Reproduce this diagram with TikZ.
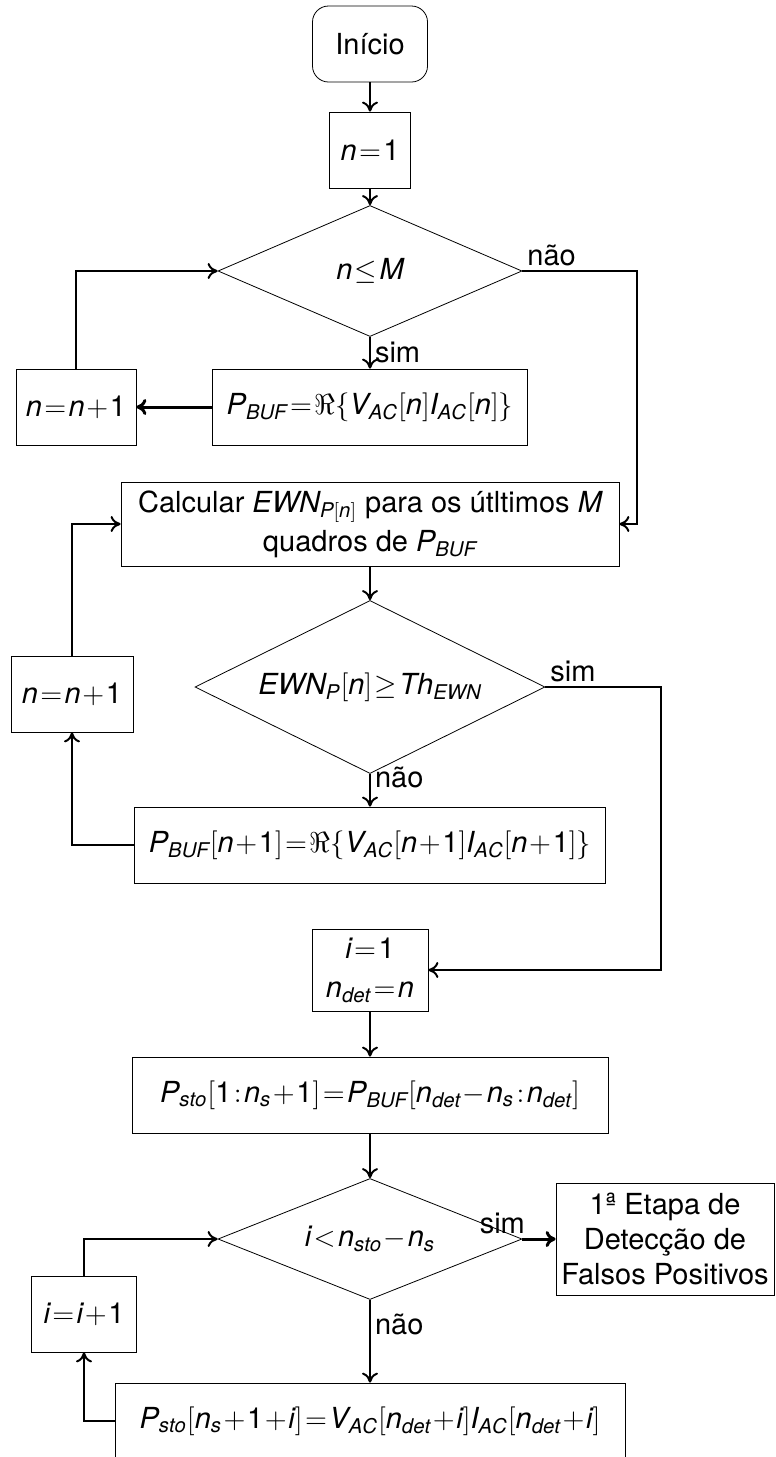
\documentclass[tikz,border=0pt]{standalone}
\usepackage{mathspec}
\setmainfont{TeX Gyre Heros}
\setmathsfont(Digits,Latin)[Scale=MatchLowercase]{TeX Gyre Heros}
\thickmuskip=1.5mu
\medmuskip=1mu
\usetikzlibrary{shapes.geometric}
\usetikzlibrary{arrows.meta}
\tikzset{
  block/.style={draw, thin, rectangle, inner sep=2pt, align=center},
  start-block/.style={block, rounded corners=8pt},
  decision/.style={draw, thin, diamond, inner sep=0pt},
  flow-path/.style={line width=1pt, -{To[length=5pt, width=8pt]}},
  strong-path/.style={line width=1.5pt, -{To[length=5pt, width=8pt]}},
  branch-label/.style={inner sep=2pt},
}

\begin{document}
\begin{tikzpicture}[x=0.5pt, y=-0.5pt, font=\fontsize{14.5}{17.5}\selectfont]
\useasboundingbox (0,0) rectangle (776,1457);
% first loop
\node[start-block, minimum width=57.5pt, minimum height=38pt] (start) at (370,44) {Início};
\node[block, minimum width=40.5pt, minimum height=38pt] (n-one) at (370,150) {$n=1$};
\node[decision, shape aspect=2.3, minimum width=152pt, minimum height=65.5pt] (cond-n) at (370,271) {$n\leq M$};
\node[block, minimum width=157.5pt, minimum height=38pt] (pbuf) at (370,407) {$P_{BUF}=\Re\{V_{AC}[n]I_{AC}[n]\}$};
\node[block, minimum width=60pt, minimum height=38pt] (inc-n) at (76,407) {$n=n+1$};
% detection
\node[block, minimum width=249pt, minimum height=42pt] (calc) at (370,524) {Calcular $EWN_{P[n]}$ para os útltimos $M$\\[2pt] quadros de $P_{BUF}$};
\node[decision, shape aspect=2, minimum width=175pt, minimum height=86.5pt] (cond-ewn) at (370,687) {$EWN_P[n]\geq Th_{EWN}$};
\node[block, minimum width=235.5pt, minimum height=38pt] (pbuf-next) at (370,845) {$P_{BUF}[n+1]=\Re\{V_{AC}[n+1]I_{AC}[n+1]\}$};
\node[block, minimum width=61pt, minimum height=38pt] (inc-n2) at (72,694) {$n=n+1$};
% storage
\node[block, minimum width=58pt, minimum height=41pt] (init) at (370,970) {$i=1$\\[2pt] $n_{det}=n$};
\node[block, minimum width=238pt, minimum height=38pt] (psto) at (370,1095) {$P_{sto}[1:n_s+1]=P_{BUF}[n_{det}-n_s:n_{det}]$};
\node[decision, shape aspect=2.5, minimum width=152pt, minimum height=60.5pt] (cond-i) at (370,1239) {$i<n_{sto}-n_s$};
\node[block, minimum width=109pt, minimum height=56pt] (stage) at (665,1239) {1ª Etapa de\\Detecção de\\Falsos Positivos};
\node[block, minimum width=52.5pt, minimum height=38pt] (inc-i) at (84,1314) {$i=i+1$};
\node[block, minimum width=255pt, minimum height=38pt] (psto-next) at (370,1421) {$P_{sto}[n_s+1+i]=V_{AC}[n_{det}+i]I_{AC}[n_{det}+i]$};

% connectors
\draw[flow-path] (start) -- (n-one);
\draw[flow-path] (n-one) -- (cond-n);
\draw[flow-path] (cond-n.east) node[branch-label, above right] {não} -| (637,524) -- (calc.east);
\draw[flow-path] (cond-n.south) -- node[branch-label, right] {sim} (pbuf.north);
\draw[strong-path] (pbuf.west) -- (inc-n.east);
\draw[flow-path] (inc-n.north) |- (cond-n.west);
\draw[flow-path] (calc.south) -- (cond-ewn.north);
\draw[flow-path] (cond-ewn.east) node[branch-label, above right] {sim} -| (661,970) -- (init.east);
\draw[flow-path] (cond-ewn.south) -- node[branch-label, right, pos=0.1] {não} (pbuf-next.north);
\draw[flow-path] (pbuf-next.west) -| (inc-n2.south);
\draw[flow-path] (inc-n2.north) |- (calc.west);
\draw[flow-path] (init.south) -- (psto.north);
\draw[flow-path] (psto.south) -- (cond-i.north);
\draw[strong-path] (cond-i.east) node[branch-label, above left, xshift=4pt] {sim} -- (stage.west);
\draw[flow-path] (cond-i.south) -- node[branch-label, right, pos=0.3] {não} (psto-next.north);
\draw[flow-path] (psto-next.west) -| (inc-i.south);
\draw[flow-path] (inc-i.north) |- (cond-i.west);
\end{tikzpicture}
\end{document}
